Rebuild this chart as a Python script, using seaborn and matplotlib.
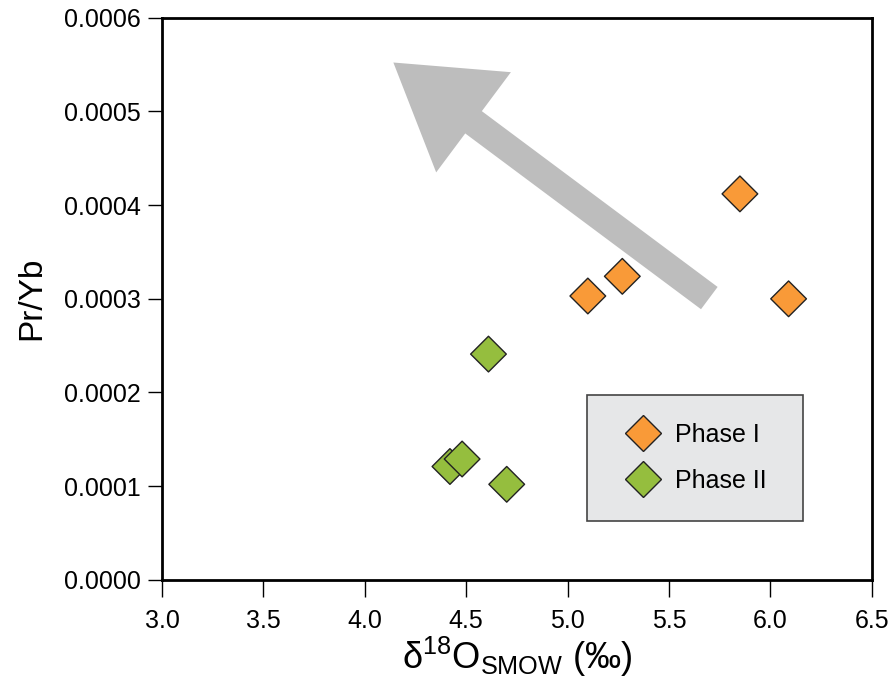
import pandas as pd
import matplotlib.pyplot as plt
import seaborn as sns
from matplotlib.patches import FancyArrowPatch, Rectangle

# data
phase1_x = [5.10, 5.27, 5.85, 6.09]
phase1_y = [0.000303, 0.000324, 0.000412, 0.000300]
phase2_x = [4.61, 4.42, 4.48, 4.70]
phase2_y = [0.000241, 0.000121, 0.000129, 0.000102]

x_ticks = [3.0, 3.5, 4.0, 4.5, 5.0, 5.5, 6.0, 6.5]
y_ticks = [0.0000, 0.0001, 0.0002, 0.0003, 0.0004, 0.0005, 0.0006]

# trend arrow (tail -> head), data coords
arrow_tail = (5.71, 0.000299)
arrow_head = (4.13, 0.000554)

df = pd.DataFrame({
    'd18O': phase1_x + phase2_x,
    'PrYb': phase1_y + phase2_y,
    'phase': ['Phase I'] * len(phase1_x) + ['Phase II'] * len(phase2_x),
})

sns.set_style('ticks')
plt.rcParams['font.family'] = ['Liberation Sans', 'DejaVu Sans']
plt.rcParams['mathtext.default'] = 'regular'
plt.rcParams['text.color'] = 'black'
plt.rcParams['axes.labelcolor'] = 'black'
plt.rcParams['xtick.color'] = 'black'
plt.rcParams['ytick.color'] = 'black'

fig, ax = plt.subplots(figsize=(8.95, 6.83), dpi=100)
fig.subplots_adjust(left=0.181, right=0.974, top=0.974, bottom=0.151)

arrow = FancyArrowPatch(arrow_tail, arrow_head,
                        arrowstyle='simple,head_width=90,head_length=72,tail_width=20',
                        mutation_scale=1, color='#bdbdbd', lw=0, zorder=1)
ax.add_patch(arrow)

palette = {'Phase I': '#f99a38', 'Phase II': '#95be3e'}
sns.scatterplot(data=df, x='d18O', y='PrYb', hue='phase', palette=palette,
                marker='D', s=330, edgecolor='#222222', linewidth=1.0,
                zorder=3, ax=ax)

# grey legend box
ax.add_patch(Rectangle((0.599, 0.105), 0.304, 0.224, transform=ax.transAxes,
                       facecolor='#e6e7e8', edgecolor='#444444', lw=1.2, zorder=2))
ax.legend(loc='center', bbox_to_anchor=(0.758, 0.217), frameon=False,
          fontsize=18, handlelength=0.8, handletextpad=0.9, labelspacing=0.9,
          markerscale=1.0)

ax.set_xlim(3.0, 6.5)
ax.set_ylim(0, 0.0006)
ax.set_xticks(x_ticks)
ax.set_yticks(y_ticks)
ax.set_xticklabels([f'{v:.1f}' for v in x_ticks])
ax.set_yticklabels([f'{v:.4f}' for v in y_ticks])
ax.tick_params(direction='out', width=1, labelsize=18)
ax.tick_params(axis='y', length=10, pad=5)
ax.tick_params(axis='x', length=12, pad=9)

for side in ['top', 'right', 'bottom', 'left']:
    ax.spines[side].set_visible(True)
    ax.spines[side].set_linewidth(2)
    ax.spines[side].set_color('black')

ax.set_xlabel(r'δ$^{18}$O$_{SMOW}$ (‰)', fontsize=26, labelpad=1)
ax.set_ylabel('Pr/Yb', fontsize=24, labelpad=12)

plt.savefig('out.png', dpi=100)
